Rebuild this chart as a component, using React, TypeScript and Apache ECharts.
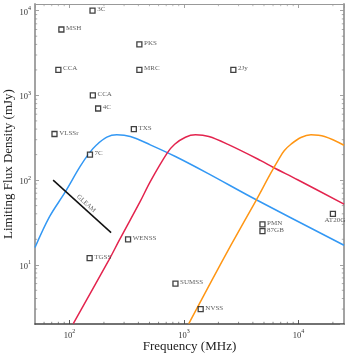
import React, { useEffect, useRef } from "react";
import * as echarts from "echarts";

const SERIF = "'Liberation Serif', 'DejaVu Serif', serif";

// Survey limits (frequency in MHz, limiting flux density in mJy)
const surveyNames = ["3C", "MSH", "CCA", "PKS", "MRC", "CCA", "4C", "TXS", "VLSSr", "7C", "2Jy", "TGSS", "WENSS", "SUMSS", "NVSS", "PMN", "87GB", "AT20G"];
const surveyFreqs = [159, 85, 80, 408, 408, 160, 178, 365, 74, 151, 2700, 150, 325, 843, 1400, 4850, 4850, 20000];
const surveyLimits = [10000, 6000, 2000, 4000, 2000, 1000, 700, 400, 350, 200, 2000, 12, 20, 6, 3, 30, 25, 40];

// Spectral curves
const blueFreq = [50, 67, 91, 124, 149, 173, 212, 259, 340, 508, 842, 1600, 4240, 25000];
const blueFlux = [16, 37, 71, 145, 208, 261, 321, 342, 327, 261, 190, 121, 59, 17];

const redFreq = [108, 222, 274, 415, 508, 713, 830, 1030, 1262, 1650, 2450, 4690, 6058, 9830, 25000];
const redFlux = [2.02, 11.5, 19.8, 56, 96, 208, 265, 321, 342, 327, 262, 170, 141, 101, 52];

const orangeFreq = [1102, 1766, 2559, 4296, 5623, 6800, 7508, 8600, 10500, 12870, 16900, 25000];
const orangeFlux = [2.02, 6.67, 16.8, 58.6, 115, 180, 222, 265, 318, 342, 327, 258];

const gleamFreq = [72, 231];
const gleamFlux = [100, 24];
const gleamLabelAt = [129, 49];

// Axis ranges and minor tick values
const xRange = [50, 25000];
const yRange = [2, 12000];
const xMinor = [60, 70, 80, 90, 200, 300, 400, 500, 600, 700, 800, 900, 2000, 3000, 4000, 5000, 6000, 7000, 8000, 9000, 20000];
const yMinor = [3, 4, 5, 6, 7, 8, 9, 20, 30, 40, 50, 60, 70, 80, 90, 200, 300, 400, 500, 600, 700, 800, 900, 2000, 3000, 4000, 5000, 6000, 7000, 8000, 9000];

const zip = (a: number[], b: number[]) => a.map((v, i) => [v, b[i]]);

const powLabel = (v: number) => {
  const e = Math.log10(v);
  const r = Math.round(e);
  if (Math.abs(e - r) > 1e-6) return "";
  return `{b|10}{s|${r}}`;
};

const tickRich = {
  b: { fontSize: 8.5, fontFamily: SERIF, color: "#333", lineHeight: 11, verticalAlign: "bottom" },
  s: { fontSize: 6, fontFamily: SERIF, color: "#333", lineHeight: 7, verticalAlign: "top" },
};

export default function App() {
  const ref = useRef<HTMLDivElement>(null);
  useEffect(() => {
    if (!ref.current) return;
    const chart = echarts.init(ref.current, undefined, { renderer: "svg" });

    const frameAxis = (pos: string, color: string, width: number) => ({
      axisLine: { show: true, onZero: false, lineStyle: { color, width } },
      axisTick: { show: true, inside: true, length: 4, lineStyle: { color, width: 0.9 } },
      splitLine: { show: false },
      position: pos,
    });

    const option: any = {
      animation: false,
      grid: { left: 35, right: 5, top: 4, bottom: 32, containLabel: false, outerBoundsMode: "none" },
      xAxis: [
        {
          type: "log",
          logBase: 10,
          min: xRange[0],
          max: xRange[1],
          ...frameAxis("bottom", "#444", 1.5),
          axisLabel: { formatter: powLabel, rich: tickRich, margin: 4, showMinLabel: false, showMaxLabel: false },
          name: "Frequency (MHz)",
          nameLocation: "middle",
          nameGap: 15,
          nameMoveOverlap: false,
          nameTextStyle: { fontFamily: SERIF, fontSize: 13, color: "#222" },
        },
        {
          type: "log",
          logBase: 10,
          min: xRange[0],
          max: xRange[1],
          ...frameAxis("top", "#999", 1),
          axisLabel: { show: false },
        },
      ],
      yAxis: [
        {
          type: "log",
          logBase: 10,
          min: yRange[0],
          max: yRange[1],
          ...frameAxis("left", "#999", 1.8),
          axisLabel: { formatter: powLabel, rich: tickRich, margin: 4, showMinLabel: false, showMaxLabel: false },
          name: "Limiting Flux Density (mJy)",
          nameLocation: "middle",
          nameGap: 21,
          nameMoveOverlap: false,
          nameTextStyle: { fontFamily: SERIF, fontSize: 13, color: "#222" },
        },
        {
          type: "log",
          logBase: 10,
          min: yRange[0],
          max: yRange[1],
          ...frameAxis("right", "#999", 1.8),
          axisLabel: { show: false },
        },
      ],
      series: [
        {
          type: "custom",
          name: "xminor",
          silent: true,
          data: xMinor.map((v) => [v, 10]),
          encode: { x: 0, y: 1 },
          renderItem: (params: any, api: any) => {
            const cs = params.coordSys;
            const x = api.coord([api.value(0), api.value(1)])[0];
            const yb = cs.y + cs.height;
            const yt = cs.y;
            return {
              type: "group",
              children: [
                { type: "line", shape: { x1: x, y1: yb, x2: x, y2: yb - 2.2 }, style: { stroke: "#555", lineWidth: 0.7 } },
                { type: "line", shape: { x1: x, y1: yt, x2: x, y2: yt + 2.2 }, style: { stroke: "#999", lineWidth: 0.7 } },
              ],
            };
          },
        },
        {
          type: "custom",
          name: "yminor",
          silent: true,
          data: yMinor.map((v) => [100, v]),
          encode: { x: 0, y: 1 },
          renderItem: (params: any, api: any) => {
            const cs = params.coordSys;
            const y = api.coord([api.value(0), api.value(1)])[1];
            const xl = cs.x;
            const xr = cs.x + cs.width;
            return {
              type: "group",
              children: [
                { type: "line", shape: { x1: xl, y1: y, x2: xl + 2.2, y2: y }, style: { stroke: "#888", lineWidth: 0.7 } },
                { type: "line", shape: { x1: xr, y1: y, x2: xr - 2.2, y2: y }, style: { stroke: "#888", lineWidth: 0.7 } },
              ],
            };
          },
        },
        {
          type: "line",
          data: zip(blueFreq, blueFlux),
          showSymbol: false,
          symbol: "none",
          smooth: 0.35,
          lineStyle: { color: "#3398f4", width: 1.5 },
          z: 3,
        },
        {
          type: "line",
          data: zip(redFreq, redFlux),
          showSymbol: false,
          symbol: "none",
          smooth: 0.35,
          lineStyle: { color: "#e3244e", width: 1.5 },
          z: 3,
        },
        {
          type: "line",
          data: zip(orangeFreq, orangeFlux),
          showSymbol: false,
          symbol: "none",
          smooth: 0.35,
          lineStyle: { color: "#ff9614", width: 1.5 },
          z: 3,
        },
        {
          type: "line",
          data: zip(gleamFreq, gleamFlux),
          showSymbol: false,
          symbol: "none",
          lineStyle: { color: "#111", width: 1.5 },
          z: 4,
        },
        {
          type: "scatter",
          data: [gleamLabelAt],
          symbolSize: 1,
          itemStyle: { color: "rgba(0,0,0,0)" },
          label: {
            show: true,
            position: "inside",
            formatter: "GLEAM",
            rotate: -42.6,
            offset: [1.2, -5.6],
            fontSize: 6.5,
            fontFamily: SERIF,
            color: "#333",
          },
          z: 4,
        },
        {
          type: "scatter",
          data: surveyNames.map((n, i) => ({
            name: n,
            value: [surveyFreqs[i], surveyLimits[i]],
            label: n === "AT20G" ? { position: "bottom", distance: 0, offset: [2, 0] } : undefined,
          })),
          symbol: "rect",
          symbolSize: 5,
          itemStyle: { color: "#fff", borderColor: "#111", borderWidth: 1.3 },
          label: {
            show: true,
            position: "right",
            distance: 1.5,
            offset: [0, -1.5],
            formatter: "{b}",
            fontSize: 7,
            fontFamily: SERIF,
            color: "#333",
          },
          z: 5,
        },
      ],
    };
    chart.setOption(option);
    return () => chart.dispose();
  }, []);
  return <div ref={ref} style={{ position: "fixed", left: 0, top: 0, width: 349, height: 356 }} />;
}
